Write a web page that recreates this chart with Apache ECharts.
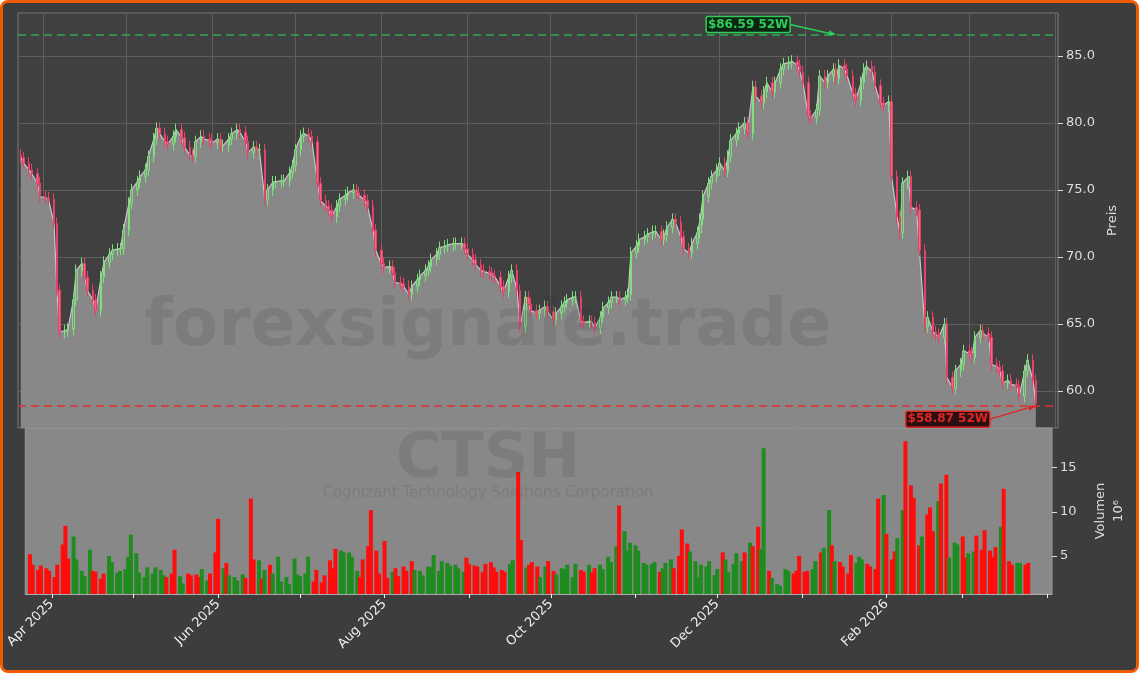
<!DOCTYPE html>
<html><head><meta charset="utf-8">
<script src="https://cdn.jsdelivr.net/npm/echarts@6/dist/echarts.min.js"></script>
<style>
html,body{margin:0;padding:0;background:#fff;}
#wrap{position:absolute;left:0;top:0;width:1133px;height:667px;border:3px solid #f05a00;border-radius:8px;background:#3d3d3d;overflow:hidden;}
#c{width:1133px;height:667px;}
</style></head><body>
<div id="wrap"><div id="c"></div></div>
<script>
const closes = [77.4,77.0,76.5,76.2,75.5,74.5,74.4,74.3,72.5,67.5,
64.4,64.5,64.6,66.8,69.0,69.5,68.5,67.5,66.8,66.0,
68.5,69.6,70.2,70.5,70.6,70.6,72.0,74.0,75.0,75.6,
76.0,76.5,77.5,78.8,79.6,79.2,78.6,78.4,79.0,79.5,
78.9,78.2,77.6,77.5,78.6,79.0,78.8,78.7,78.5,78.8,
78.3,78.3,78.8,79.2,79.5,79.3,78.6,77.8,78.2,78.0,
78.0,74.3,75.0,75.6,75.6,75.7,75.7,76.3,76.8,78.0,
79.0,79.2,79.0,78.6,75.5,74.2,73.8,73.5,73.0,73.8,
74.3,74.6,74.8,75.0,74.8,74.6,74.2,73.8,72.0,70.5,
69.5,69.2,69.3,68.8,68.1,68.0,67.8,67.2,67.8,68.3,
68.6,69.0,69.3,69.8,70.2,70.7,70.8,70.9,71.0,71.0,
71.0,70.6,70.2,69.8,69.4,69.0,68.9,68.8,68.6,68.5,
67.8,67.4,68.5,69.0,67.5,64.8,67.0,66.5,66.0,65.8,
66.0,66.3,65.9,65.3,65.8,66.3,66.6,66.8,67.0,67.0,
65.2,65.1,65.2,65.1,64.7,65.5,66.2,66.6,67.0,67.0,
66.8,67.0,67.2,70.3,70.8,71.3,71.5,71.7,71.9,71.9,
71.3,71.6,72.2,72.8,72.6,71.5,70.6,70.3,71.0,71.8,
72.8,74.5,75.5,76.0,76.5,77.0,76.4,77.5,78.7,79.2,
79.6,80.0,79.2,82.7,82.0,81.5,82.3,83.0,82.3,83.0,
84.0,84.4,84.5,84.6,84.3,83.8,83.0,80.5,80.4,81.0,
83.5,83.0,83.5,84.0,83.3,84.3,84.0,83.5,82.2,81.7,
83.0,84.0,84.2,83.8,82.8,81.5,81.3,81.6,76.0,73.0,
71.8,75.5,76.0,73.7,73.5,70.5,64.8,65.5,64.4,64.2,
64.0,65.0,61.0,60.2,61.5,62.0,63.0,62.8,62.5,64.0,
64.5,64.3,64.0,62.0,61.8,61.5,60.6,60.8,60.5,60.4,
59.6,61.5,62.3,60.8,59.1];
const volumes = [5.2,4.0,3.4,3.9,3.6,3.3,2.6,4.0,6.3,8.4,
4.7,7.2,4.6,3.3,2.7,5.7,3.3,3.2,2.4,3.0,
5.0,4.3,3.1,3.3,3.5,4.9,7.4,5.3,3.1,2.6,
3.7,3.0,3.7,3.4,2.8,2.6,3.0,5.7,2.7,1.9,
3.0,2.8,2.9,2.6,3.5,2.2,3.0,5.4,9.2,3.6,
4.2,2.8,2.6,2.2,2.9,2.5,11.5,4.6,4.5,2.4,
3.4,4.0,3.0,4.9,2.1,2.6,1.8,4.7,2.9,2.7,
3.0,4.9,2.1,3.4,2.0,2.8,4.5,3.6,5.8,5.6,
5.4,5.4,4.9,3.3,2.6,4.6,6.1,10.2,5.6,3.0,
6.7,2.5,3.2,3.6,2.7,3.8,3.3,4.4,3.4,3.3,
2.8,3.8,3.7,5.1,3.3,4.4,4.2,3.9,4.0,3.6,
3.2,4.8,4.1,3.9,3.8,3.2,4.1,4.3,3.7,3.2,
3.4,3.2,4.1,4.5,14.5,6.8,3.7,4.0,4.3,3.8,
2.6,3.8,4.4,3.3,2.9,3.6,3.5,4.0,2.6,4.1,
3.4,3.2,4.0,3.1,3.6,4.0,3.5,4.9,4.3,6.1,
10.7,7.8,5.6,6.5,6.2,5.6,4.2,4.0,4.1,4.3,
3.2,3.6,4.2,4.6,3.6,5.0,8.0,6.4,5.5,4.4,
2.6,4.0,3.8,4.4,2.8,3.5,5.4,4.6,3.2,4.1,
5.3,4.4,5.4,6.5,6.1,8.3,5.8,17.2,3.3,2.5,
1.8,1.6,3.5,3.3,3.0,3.3,5.0,3.2,3.3,3.5,
4.4,5.4,5.9,10.2,6.2,4.4,4.3,3.8,3.0,5.1,
4.2,4.9,4.6,4.1,3.8,3.5,11.5,11.9,7.5,4.6,
5.5,7.0,10.2,18.0,13.0,11.6,6.2,7.2,9.7,10.5,
7.8,11.2,13.2,14.2,4.8,6.5,6.3,7.2,4.8,5.3,
5.5,7.3,5.7,7.9,5.6,4.9,6.0,8.3,12.6,4.4,
4.0,4.2,4.2,4.0,4.2];
const firstOpen = 77.6;
const high52 = 86.59, low52 = 58.87;
const high52Date = '2026-01-12', low52Date = '2026-03-25';
const startDate = '2025-03-24', endDate = '2026-03-25';
const axisMin = '2025-03-23', axisMax = '2026-04-02';
const priceTicks = [60, 65, 70, 75, 80, 85];
const volumeTicks = [5, 10, 15];
const monthLabels = ['Apr 2025', 'Jun 2025', 'Aug 2025', 'Oct 2025', 'Dec 2025', 'Feb 2026'];
const ticker = 'CTSH', company = 'Cognizant Technology Solutions Corporation', watermark = 'forexsignale.trade';
const monthNames = ['Jan','Feb','Mar','Apr','May','Jun','Jul','Aug','Sep','Oct','Nov','Dec'];

const DAY = 86400000;
const t0 = Date.parse(startDate), t1 = Date.parse(endDate);
const n = closes.length;
const dates = closes.map((_, i) => t0 + Math.round(i * (t1 - t0) / DAY / (n - 1)) * DAY);
const wick = 0.45;
const candles = closes.map((c, i) => {
  const o = i === 0 ? firstOpen : closes[i - 1];
  return [dates[i], o, c, Math.min(o, c) - wick, Math.max(o, c) + wick];
});
const area = closes.map((c, i) => [dates[i], c]);
const vol = volumes.map((v, i) => ({
  value: [dates[i], v],
  itemStyle: { color: (i === 0 ? closes[0] >= firstOpen : closes[i] >= closes[i - 1]) ? '#1e8c1e' : '#ff0d0d' }
}));

const chart = echarts.init(document.getElementById('c'));
const xMin = Date.parse(axisMin), xMax = Date.parse(axisMax);
const labelFmt = v => { const d = new Date(v); const s = monthNames[d.getUTCMonth()] + ' ' + d.getUTCFullYear(); return monthLabels.includes(s) ? s : ''; };
const gridLines = priceTicks.map(v => ({ yAxis: v, lineStyle: { color: '#5e5e5e', type: 'solid', width: 1 } }));
chart.setOption({
  backgroundColor: '#3d3d3d',
  animation: false,
  grid: [
    { left: 15, right: 78, top: 10, height: 415, show: true, backgroundColor: '#404040', borderColor: '#777', borderWidth: 1 },
    { left: 15, right: 78, top: 425, height: 166, show: true, backgroundColor: '#888888', borderColor: '#999', borderWidth: 1 }
  ],
  xAxis: [
    { type: 'time', gridIndex: 0, min: xMin, max: xMax, minInterval: 28 * DAY, maxInterval: 31 * DAY,
      axisLabel: { show: false }, axisTick: { show: false }, axisLine: { show: false },
      splitLine: { show: true, lineStyle: { color: '#5e5e5e', width: 1 } } },
    { type: 'time', gridIndex: 1, min: xMin, max: xMax, minInterval: 28 * DAY, maxInterval: 31 * DAY,
      axisLine: { show: true, lineStyle: { color: '#aaa' } },
      axisTick: { show: true, length: 4, lineStyle: { color: '#eee' } },
      axisLabel: { color: '#eeeeee', fontSize: 13, rotate: 45, formatter: labelFmt, fontFamily: 'DejaVu Sans', margin: 8, hideOverlap: false },
      splitLine: { show: false } }
  ],
  yAxis: [
    { type: 'value', gridIndex: 0, position: 'right', min: 57.24, max: 88.2,
      axisLabel: { color: '#dddddd', fontSize: 13, fontFamily: 'DejaVu Sans', customValues: priceTicks, formatter: v => Number(v).toFixed(1) },
      axisTick: { show: true, length: 5, lineStyle: { color: '#ddd' }, customValues: priceTicks },
      axisLine: { show: false },
      splitLine: { show: false },
      name: 'Preis', nameLocation: 'middle', nameRotate: 90, nameGap: 48,
      nameTextStyle: { color: '#dddddd', fontSize: 13, fontFamily: 'DejaVu Sans' } },
    { type: 'value', gridIndex: 1, position: 'right', min: 0.68, max: 19.5,
      axisLabel: { color: '#dddddd', fontSize: 13, fontFamily: 'DejaVu Sans', customValues: volumeTicks },
      axisTick: { show: true, length: 5, lineStyle: { color: '#ddd' }, customValues: volumeTicks },
      axisLine: { show: false }, splitLine: { show: false },
      name: 'Volumen\n10⁶', nameLocation: 'middle', nameRotate: 90, nameGap: 40,
      nameTextStyle: { color: '#dddddd', fontSize: 13, fontFamily: 'DejaVu Sans', lineHeight: 18 } }
  ],
  series: [
    { type: 'line', xAxisIndex: 0, yAxisIndex: 0, data: [], symbol: 'none', z: 0,
      markLine: { symbol: 'none', silent: true, label: { show: false }, z: 0, data: gridLines } },
    { type: 'line', xAxisIndex: 0, yAxisIndex: 0, data: area, symbol: 'none', z: 1,
      lineStyle: { color: '#c8c8c8', width: 1.2 }, areaStyle: { color: '#888888', opacity: 1 },
      markLine: { symbol: 'none', silent: true, label: { show: false },
        data: [ { yAxis: high52, lineStyle: { color: '#2ea84f', type: [8, 5], width: 1.5 } },
                { yAxis: low52, lineStyle: { color: '#e03030', type: [8, 5], width: 1.5 } } ] } },
    { type: 'candlestick', xAxisIndex: 0, yAxisIndex: 0, data: candles, z: 3, barMaxWidth: 3,
      itemStyle: { color: '#8f8f8f', color0: '#f06888', borderColor: '#7de07d', borderColor0: '#e8406a', borderWidth: 1 } },
    { type: 'bar', xAxisIndex: 1, yAxisIndex: 1, data: vol, barWidth: 4, barGap: '0%' }
  ]
});

function drawAnno() {
  const hp = chart.convertToPixel({ xAxisIndex: 0, yAxisIndex: 0 }, [Date.parse(high52Date), high52]);
  const lp = chart.convertToPixel({ xAxisIndex: 0, yAxisIndex: 0 }, [Date.parse(low52Date), low52]);
  const g = [];
  const wm = [
    { x: 485, y: 325, text: watermark, size: 66 },
    { x: 485, y: 458, text: ticker, size: 62 }
  ];
  wm.forEach(w => g.push({ type: 'text', x: w.x, y: w.y, z: 10, silent: true,
    style: { text: w.text, fill: 'rgba(50,50,50,0.13)', font: 'bold ' + w.size + 'px "DejaVu Sans"', textAlign: 'center', textVerticalAlign: 'middle' } }));
  g.push({ type: 'text', x: 485, y: 490, z: 10, silent: true,
    style: { text: company, fill: 'rgba(50,50,50,0.13)', font: '15px "DejaVu Sans"', textAlign: 'center', textVerticalAlign: 'middle' } });
  function label(txt, bx, by, tx, ty, col, bg) {
    g.push({ type: 'line', z: 20, shape: { x1: bx + 84, y1: by + 6, x2: tx - 2, y2: ty }, style: { stroke: col, lineWidth: 1.5 } });
    const ang = Math.atan2(ty - (by + 6), tx - (bx + 84));
    g.push({ type: 'polygon', z: 20, shape: { points: [[tx, ty], [tx - 8 * Math.cos(ang - 0.35), ty - 8 * Math.sin(ang - 0.35)], [tx - 8 * Math.cos(ang + 0.35), ty - 8 * Math.sin(ang + 0.35)]] }, style: { fill: col } });
    g.push({ type: 'rect', z: 21, shape: { x: bx, y: by - 2, width: 84, height: 16, r: 2 }, style: { fill: bg, stroke: col, lineWidth: 1.5 } });
    g.push({ type: 'text', z: 22, x: bx + 42, y: by + 6, style: { text: txt, fill: col, font: 'bold 12px "DejaVu Sans"', textAlign: 'center', textVerticalAlign: 'middle' } });
  }
  label('$' + high52.toFixed(2) + ' 52W', hp[0] - 130, hp[1] - 16, hp[0], hp[1], '#2ecc5a', '#0d2613');
  label('$' + low52.toFixed(2) + ' 52W', lp[0] - 130, lp[1] + 7, lp[0], lp[1], '#e02525', '#2a1010');
  chart.setOption({ graphic: g });
}
drawAnno();
</script>
</body></html>
